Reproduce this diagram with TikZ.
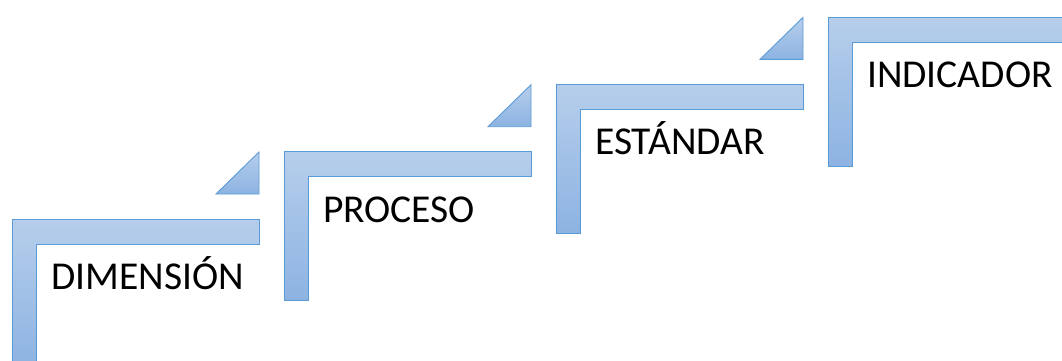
\documentclass[tikz,border=0pt]{standalone}
\usepackage{fontspec}
\setmainfont{Carlito}
\definecolor{stepTop}{HTML}{B6CEEB}
\definecolor{stepBot}{HTML}{8DB3E2}
\definecolor{stepLine}{HTML}{5B9BD5}
\tikzset{
  stepshape/.style={draw=stepLine, line width=0.9pt, top color=stepTop, bottom color=stepBot},
  steplabel/.style={anchor=base west, inner sep=0pt, font=\fontsize{39.5}{46}\selectfont}
}
\begin{document}
\begin{tikzpicture}[x=1pt,y=-1pt]
\useasboundingbox (0,0) rectangle (1062,361);
\begin{scope}
\clip (0,0) rectangle (1062,361);
\foreach \n/\txt in {0/DIMENSIÓN,1/PROCESO,2/ESTÁNDAR,3/INDICADOR}{
  \pgfmathsetmacro{\L}{12+272*\n}
  \pgfmathsetmacro{\T}{219-67.3*\n}
  \draw[stepshape] (\L,\T) -- (\L+247,\T) -- (\L+247,\T+25) -- (\L+24,\T+25) -- (\L+24,\T+149) -- (\L,\T+149) -- cycle;
  \draw[stepshape] (\L+247,\T-67) -- (\L+247,\T-25) -- (\L+204,\T-25) -- cycle;
  \node[steplabel] (lab\n) at (\L+39,\T+70.5) {\txt};
}
\end{scope}
\end{tikzpicture}
\end{document}
